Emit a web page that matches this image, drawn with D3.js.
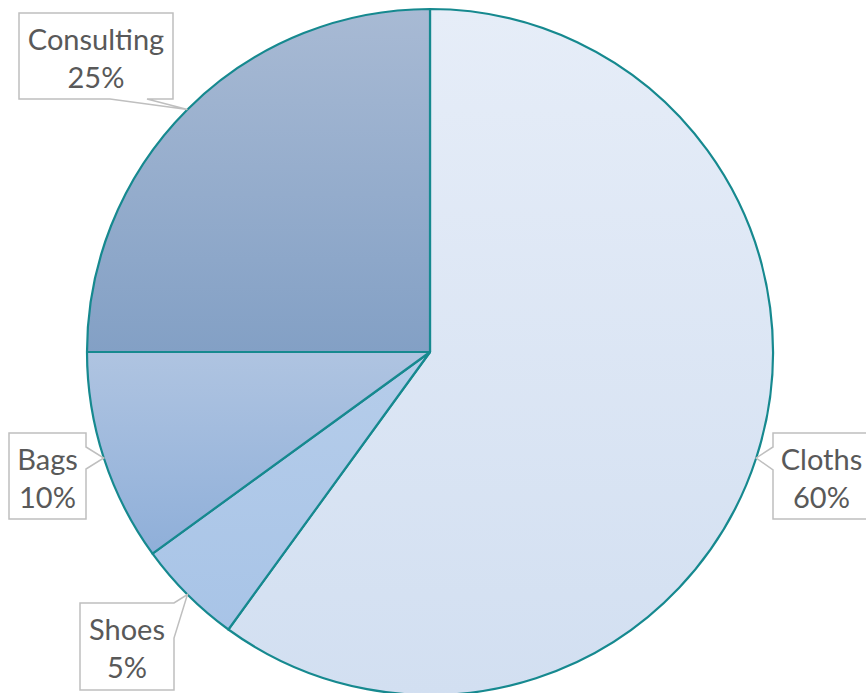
<!DOCTYPE html>
<html>
<head>
<meta charset="utf-8">
<script src="https://cdn.jsdelivr.net/npm/d3@7"></script>
<style>
  body { margin: 0; background: #fff; }
  svg { display: block; }
</style>
</head>
<body>
<div id="chart"></div>
<script>
const categories = ["Cloths", "Shoes", "Bags", "Consulting"];
const values = [60, 5, 10, 25];
const percentLabels = ["60%", "5%", "10%", "25%"];

// gradient stops per slice, top -> bottom
const sliceColors = [
    ["#e6edf8", "#d2dff1"],
    ["#b6cdea", "#a8c4e7"],
    ["#afc4e1", "#8fafd9"],
    ["#a8bad4", "#83a0c5"]
];

// callout boxes: x, y, w, h, side where the pointer leaves the box
const boxes = [
    { x: 773, y: 433, w: 100, h: 86, side: "left", p1: 447, p2: 470 },
    { x: 80, y: 603, w: 94, h: 87, side: "right", p1: 603, p2: 638 },
    { x: 9, y: 433, w: 77, h: 86, side: "right", p1: 447, p2: 469 },
    { x: 19, y: 13, w: 154, h: 86, side: "bottom", p1: 110, p2: 147 }
];

const width = 866, height = 693;
const cx = 430, cy = 352, radius = 343;

const svg = d3.select("#chart").append("svg")
    .attr("width", width)
    .attr("height", height);

const defs = svg.append("defs");
sliceColors.forEach((c, i) => {
    const g = defs.append("linearGradient")
        .attr("id", "grad" + i)
        .attr("x1", 0).attr("y1", 0)
        .attr("x2", 0).attr("y2", 1);
    g.append("stop").attr("offset", "0%").attr("stop-color", c[0]);
    g.append("stop").attr("offset", "100%").attr("stop-color", c[1]);
});

const pie = d3.pie().sort(null).value(d => d);
const arcs = pie(values);
const arc = d3.arc().innerRadius(0).outerRadius(radius);

const g = svg.append("g").attr("transform", `translate(${cx},${cy})`);

g.selectAll("path")
    .data(arcs)
    .enter().append("path")
    .attr("d", arc)
    .attr("fill", (d, i) => `url(#grad${i})`)
    .attr("stroke", "#16898f")
    .attr("stroke-width", 2.2)
    .attr("stroke-linejoin", "round");

// labels with callout boxes
const labels = svg.append("g");
arcs.forEach((d, i) => {
    const a = (d.startAngle + d.endAngle) / 2;
    const tx = cx + radius * Math.sin(a);
    const ty = cy - radius * Math.cos(a);
    const b = boxes[i];
    const x0 = b.x, y0 = b.y, x1 = b.x + b.w, y1 = b.y + b.h;
    let pts;
    if (b.side === "left") {
        pts = [[x0, y0], [x1, y0], [x1, y1], [x0, y1], [x0, b.p2], [tx, ty], [x0, b.p1]];
    } else if (b.side === "right") {
        pts = [[x0, y0], [x1, y0], [x1, b.p1], [tx, ty], [x1, b.p2], [x1, y1], [x0, y1]];
    } else {
        pts = [[x0, y0], [x1, y0], [x1, y1], [b.p2, y1], [tx, ty], [b.p1, y1], [x0, y1]];
    }
    labels.append("path")
        .attr("d", d3.line()(pts) + "Z")
        .attr("fill", "#fff")
        .attr("stroke", "#bfbfbf")
        .attr("stroke-width", 1.5);

    const t = labels.append("text")
        .attr("text-anchor", "middle")
        .style("font-family", "Lato, 'Open Sans', sans-serif")
        .style("font-size", "29px")
        .attr("fill", "#595959");
    const mx = (x0 + Math.min(x1, width)) / 2 + (b.side === "left" ? 2 : 0);
    t.append("tspan").attr("x", mx).attr("y", y0 + 37).text(categories[i]);
    t.append("tspan").attr("x", mx).attr("y", y0 + 75).text(percentLabels[i]);
});
</script>
</body>
</html>
